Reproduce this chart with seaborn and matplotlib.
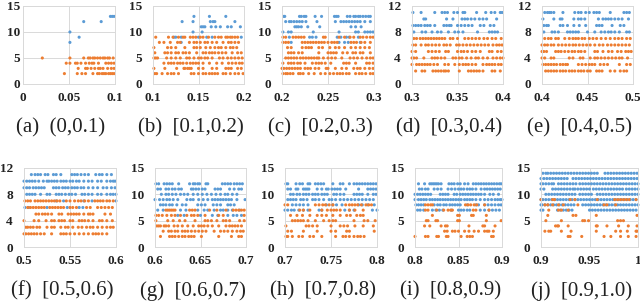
import pandas as pd
import matplotlib
matplotlib.use("Agg")
import matplotlib.pyplot as plt
import seaborn as sns

BLUE = "#5B9BD5"
ORANGE = "#ED7D31"
W, H = 640, 302

# x values per y level
a_blue = {13: [.095, .097, .099], 12: [.066, .085], 10: [.051], 9: [.061], 8: [.051]}
a_orange = {
    5: [.021, .051, .066, .071, .073, .076, .078, .081, .084, .087, .089, .092, .094, .098],
    4: [.047, .051, .057, .059, .063, .068, .072, .075, .077, .082, .090, .093, .096, .099],
    3: [.060, .068, .070, .074, .078, .082, .084, .087, .092, .096, .099],
    2: [.045, .059, .064, .068, .076, .081, .083, .086, .088, .090, .093, .095, .097, .099],
}
b_blue = {
    13: [.145, .162, .18],
    12: [.132, .144, .163, .166, .168, .19],
    11: [.153, .155, .157, .164, .169, .174, .182, .186, .196],
    10: [.144, .154],
    9: [.123, .125, .131, .150, .159, .165, .197],
    8: [.131],
}
b_orange = {
    9: [.103, .117, .122, .128, .133, .135, .141, .144, .147, .152, .155, .161, .168, .172, .175, .18, .182, .185, .187, .19, .193],
    8: [.107, .112, .119, .127, .13, .14, .145, .148, .152, .157, .16, .165, .17, .177, .183, .186, .19, .194],
    7: [.101, .116, .12, .125, .135, .145, .148, .152, .158, .163, .168, .172, .175, .18, .185, .188, .192],
    6: [.102, .113, .116, .12, .125, .128, .133, .136, .14, .148, .155, .158, .162, .165, .168, .172, .176, .18, .187, .193, .197],
    5: [.101, .103, .105, .115, .12, .125, .13, .137, .14, .145, .15, .153, .157, .16, .165, .173, .177, .182, .186, .19, .194, .198],
    4: [.112, .117, .12, .123, .127, .13, .133, .137, .141, .144, .147, .15, .155, .162, .17, .176, .183, .187, .191, .195, .198],
    3: [.101, .113, .126, .135, .134, .138, .14, .142, .15, .155, .165, .17, .18, .183, .186, .193, .197],
    2: [.102, .104, .11, .116, .12, .123, .128, .142, .145, .15, .155, .158, .162, .165, .168, .171, .177, .18, .185, .19, .194, .199],
}
c_blue = {
    13: [.202, .203, .219, .221, .224, .226, .236, .243, .257, .259, .261, .271, .274, .278, .28, .283, .285, .288, .291, .294, .296],
    12: [.204, .208, .21, .213, .216, .219, .222, .226, .238, .258, .264, .267, .27, .273, .276, .279, .282, .285, .29, .296],
    11: [.214, .216, .218, .221, .228, .241, .275, .28, .286],
    10: [.201, .207, .21, .234, .262, .28, .283, .29, .293, .296, .299],
    9: [.208, .23, .233, .237, .26, .264, .27, .273, .283],
    8: [.21, .262, .268, .272, .285],
}
c_orange = {
    9: [.201, .204, .212, .215, .218, .221, .224, .245, .247, .262, .268, .274, .278, .285, .288, .292, .296, .299],
    8: [.201, .204, .207, .222, .225, .228, .231, .234, .237, .24, .243, .246, .25, .254, .257, .26, .275, .278, .281, .286, .29, .296],
    7: [.206, .21, .222, .226, .229, .232, .24, .244, .252, .258, .262, .268, .275, .28, .285, .29, .295],
    6: [.207, .21, .213, .218, .222, .24, .25, .253, .256, .259, .266, .271, .277, .28, .285, .288, .296],
    5: [.204, .207, .21, .213, .216, .22, .223, .226, .229, .232, .235, .238, .24, .245, .25, .254, .258, .265, .274, .278, .282, .287, .292, .296, .299],
    4: [.201, .207, .21, .213, .217, .22, .225, .233, .237, .24, .243, .247, .253, .267, .27, .273, .28, .292, .295, .299],
    3: [.2, .202, .205, .208, .211, .214, .217, .22, .225, .228, .231, .236, .24, .248, .25, .258, .265, .27, .278, .282, .285, .29, .295, .299],
    2: [.201, .204, .206, .209, .212, .218, .22, .223, .229, .235, .242, .247, .252, .256, .26, .263, .266, .27, .273, .28, .284, .287, .291, .296, .299],
}
d_blue = {
    11: [.301, .31, .325, .333, .336, .339, .346, .35, .356, .358, .371, .381, .387, .391, .397, .399],
    10: [.313, .315, .338, .345, .355, .358, .361, .365, .369, .374, .378, .382, .393],
    9: [.301, .304, .307, .31, .314, .317, .32, .325, .335, .338, .341, .343, .35, .354, .358, .362, .366, .375, .379, .386, .39],
    8: [.302, .311, .315, .322, .328, .332, .34, .347, .351, .356, .372, .385, .388, .391, .394],
}
d_orange = {
    7: [.302, .305, .309, .312, .315, .318, .321, .324, .327, .33, .333, .336, .342, .345, .35, .358, .362, .366, .37, .374, .379, .383, .388, .392, .398],
    6: [.301, .304, .31, .315, .318, .322, .326, .33, .335, .338, .342, .349, .352, .356, .36, .364, .368, .372, .376, .38, .384, .389, .393, .396, .399],
    5: [.3, .304, .318, .322, .326, .33, .337, .34, .35, .354, .357, .361, .366, .37, .375, .385, .388, .394, .398],
    4: [.3, .302, .305, .313, .322, .325, .328, .332, .336, .345, .348, .352, .355, .36, .365, .37, .373, .378, .383, .389, .393, .397, .4],
    3: [.3, .305, .308, .311, .314, .317, .32, .324, .328, .336, .34, .347, .352, .356, .359, .362, .366, .37, .378, .382, .385, .388, .391, .395, .398],
    2: [.304, .311, .314, .323, .326, .329, .332, .335, .337, .34, .352, .362, .365, .368, .371, .374, .378, .388, .391, .397],
}
e_blue = {
    11: [.403, .406, .408, .41, .413, .423, .436, .44, .443, .448, .452, .457, .46, .463, .475, .49, .493, .496],
    10: [.401, .413, .42, .422, .435, .44, .443, .447, .462, .467, .47, .473, .476, .48, .484, .488, .495],
    9: [.402, .405, .407, .42, .423, .428, .435, .441, .448, .46, .463, .466, .477, .486, .49],
    8: [.402, .411, .414, .418, .428, .431, .434, .437, .44, .45, .458, .465, .469, .473, .476, .48, .485, .493, .496],
}
e_orange = {
    7: [.403, .407, .41, .415, .418, .425, .43, .434, .437, .44, .444, .447, .452, .456, .46, .465, .47, .475, .48, .484, .488, .493, .497],
    6: [.4, .403, .406, .41, .413, .418, .422, .426, .43, .434, .437, .441, .445, .449, .453, .458, .463, .467, .472, .476, .48, .484, .488, .492, .496],
    5: [.4, .402, .405, .415, .418, .421, .425, .429, .433, .436, .44, .443, .447, .458, .461, .467, .473, .477, .483, .487, .492, .495, .498],
    4: [.4, .403, .41, .413, .43, .434, .442, .445, .453, .458, .461, .465, .469, .473, .477, .481, .485, .488, .494],
    3: [.401, .404, .407, .41, .413, .416, .42, .423, .426, .428, .44, .444, .448, .452, .455, .458, .464, .468, .472, .485, .493, .497],
    2: [.404, .407, .41, .413, .416, .42, .423, .426, .43, .433, .436, .44, .443, .446, .45, .453, .46, .463, .466, .475, .48, .486, .49, .493],
}
f_blue = {
    11: [.508, .512, .515, .518, .523, .526, .532, .535, .54, .552, .555, .558, .562, .566, .57, .578, .582, .585, .59, .595],
    10: [.5, .503, .506, .509, .512, .516, .521, .525, .527, .53, .533, .536, .54, .543, .546, .55, .553, .557, .56, .565, .57, .574, .58, .584, .59, .594, .597, .599],
    9: [.5, .503, .506, .51, .513, .516, .519, .522, .532, .535, .538, .542, .545, .548, .552, .555, .558, .562, .565, .57, .575, .58, .586, .59, .595, .599],
    8: [.503, .506, .509, .512, .518, .525, .528, .535, .538, .541, .545, .549, .552, .556, .563, .566, .57, .574, .58, .584, .59, .594, .597, .6],
    7: [.535, .543, .565, .574, .6],
    6: [.501, .505, .525, .547, .56, .564],
}
f_orange = {
    7: [.501, .504, .507, .512, .515, .518, .521, .524, .527, .53, .533, .536, .539, .546, .55, .555, .559, .562, .566, .57, .577, .58, .583, .586, .59, .593, .597],
    6: [.504, .507, .51, .513, .516, .519, .522, .528, .531, .534, .537, .54, .543, .55, .553, .557, .568, .572, .58, .584, .588, .592, .596],
    5: [.513, .516, .52, .523, .526, .53, .538, .541, .548, .551, .554, .557, .56, .565, .57, .572, .575, .588, .594],
    4: [.5, .511, .516, .524, .53, .533, .538, .541, .544, .55, .553, .56, .563, .566, .57, .575, .582, .585, .59, .596],
    3: [.502, .504, .507, .51, .514, .517, .525, .53, .533, .54, .545, .548, .553, .559, .563, .568, .572, .575, .58, .585, .59, .594, .597],
    2: [.5, .502, .505, .508, .511, .514, .518, .522, .53, .54, .543, .546, .55, .555, .56, .565, .57, .575, .578, .581, .585, .59],
}
g_blue = {
    12: [.601, .604, .61, .613, .616, .619, .626, .638, .642, .644, .647, .649, .656, .658, .674, .677, .68, .683, .687, .69, .693, .696],
    11: [.603, .606, .612, .615, .619, .622, .626, .629, .64, .642, .645, .648, .652, .655, .666, .669, .672, .682, .687, .692, .695],
    10: [.607, .612, .615, .619, .623, .628, .632, .636, .642, .647, .652, .657, .662, .667, .672, .677, .68, .685, .69],
    9: [.6, .605, .609, .613, .616, .62, .625, .635, .639, .642, .648, .653, .658, .663, .666, .669, .672, .675, .678, .681, .684, .69, .699],
    8: [.606, .609, .612, .616, .619, .624, .63, .634, .647, .651, .655, .664, .668, .672, .68, .683, .687],
    7: [.603, .609, .628, .634, .647, .654, .658, .665, .672, .675, .68, .685, .693],
    6: [.625, .632, .65, .663, .669, .68, .686, .69, .695],
}
g_orange = {
    7: [.612, .614, .616, .618, .62, .622, .638, .641, .644, .66, .668, .678, .686, .689, .692, .695, .698],
    6: [.601, .604, .608, .613, .618, .622, .628, .635, .64, .643, .647, .655, .67, .675, .698],
    5: [.601, .614, .62, .627, .633, .644, .655, .658, .662, .668, .675, .678, .682, .693, .698],
    4: [.602, .604, .606, .61, .612, .615, .621, .625, .63, .636, .642, .648, .651, .654, .658, .663, .67, .678, .682, .685, .688, .691, .695],
    3: [.609, .615, .618, .622, .625, .63, .633, .636, .64, .644, .648, .652, .656, .665, .672, .676, .68, .685, .69, .694, .697],
    2: [.606, .616, .619, .622, .626, .63, .633, .637, .64, .643, .651, .67, .684, .692, .695],
}
h_blue = {
    12: [.701, .703, .712, .716, .719, .725, .727, .733, .736, .739, .742, .752, .76, .763, .77, .775, .778, .781, .784, .787, .79, .793, .796, .799],
    11: [.703, .706, .712, .714, .72, .722, .724, .726, .735, .74, .745, .747, .751, .754, .757, .76, .766, .78, .79, .793, .796, .799],
    10: [.706, .709, .713, .716, .72, .723, .726, .73, .733, .736, .74, .743, .746, .753, .756, .76, .764, .775, .778, .781, .784, .79, .796, .799],
    9: [.703, .706, .709, .712, .717, .72, .724, .73, .733, .737, .742, .748, .751, .755, .76, .764, .768, .772, .776, .78, .784, .788, .792, .796],
    8: [.708, .712, .716, .72, .725, .745, .752, .756, .762, .78, .784, .79, .797],
    7: [.7, .703, .707, .71, .715, .72, .725, .737, .74, .765, .77, .775, .795, .8],
}
h_orange = {
    8: [.7, .703, .733, .737, .741, .744, .748, .752, .766, .77, .773, .776, .779, .783, .788, .791, .794],
    7: [.716, .72, .727, .74, .746, .75, .753, .756, .76, .77, .776, .785],
    6: [.706, .713, .719, .727, .735, .74, .745, .752, .76, .767, .771, .778, .782, .785],
    5: [.708, .711, .714, .717, .72, .725, .733, .742, .748, .752, .755, .775, .786, .79, .798],
    4: [.701, .723, .726, .73, .735, .75, .76, .764, .768, .776, .785, .796],
    3: [.703, .707, .72, .735, .75, .755, .767, .77, .797],
    2: [.701, .703, .708, .715, .719, .727, .731, .74, .755, .763, .766, .77, .775, .779, .782, .786],
}
i_blue = {
    12: [.804, .811, .817, .819, .821, .823, .825, .827, .83, .839, .842, .845, .849, .852, .857, .861, .867, .87, .873, .876, .879, .882, .885, .888, .891, .894, .897, .899],
    11: [.805, .808, .812, .815, .822, .826, .83, .838, .842, .846, .85, .853, .856, .86, .863, .866, .87, .876, .88, .883, .886, .889, .892, .895, .898],
    10: [.8, .803, .806, .809, .812, .815, .818, .829, .832, .835, .838, .845, .848, .852, .855, .858, .861, .864, .867, .87, .873, .876, .88, .886, .89, .896],
    9: [.8, .804, .807, .81, .813, .817, .82, .823, .826, .829, .832, .835, .838, .841, .844, .847, .85, .853, .857, .86, .863, .866, .87, .875, .88, .884, .888, .892, .895, .898, .9],
    8: [.801, .804, .807, .81, .822, .826, .829, .833, .836, .84, .843, .846, .849, .852, .86, .87, .873, .88, .884, .888, .892, .896, .899],
    7: [.803, .806, .81, .82, .824, .828, .832, .842, .85, .853, .856, .86, .863, .875, .88, .885, .889, .893, .897],
}
i_orange = {
    8: [.812, .815, .818, .82, .858, .861, .864, .868, .871, .88],
    7: [.812, .815, .825, .833, .838, .841, .843, .867, .87, .885],
    6: [.82, .849, .851, .865, .867, .882],
    5: [.813, .815, .824, .826, .849, .851, .882, .899],
    4: [.811, .817, .83, .835, .837, .862, .878, .88, .892],
    3: [.834, .837, .843, .846, .85, .857, .862, .868, .873, .88, .883, .885, .89],
    2: [.8, .812, .815, .825, .827, .836, .838, .853, .86, .863, .866, .888, .89],
}
j_blue = {
    14: [.902, .905, .907, .91, .913, .916, .919, .922, .925, .928, .931, .934, .937, .94, .943, .946, .949, .952, .955, .958, .966, .969, .972, .975, .978, .981, .984, .987, .99, .993, .996, .999],
    13: [.9, .903, .906, .909, .912, .915, .918, .921, .924, .927, .933, .936, .939, .942, .945, .948, .951, .954, .957, .96, .963, .966, .969, .972, .975, .978, .981, .984, .987, .99, .993, .996, .999],
    12: [.9, .902, .905, .908, .911, .913, .918, .921, .924, .927, .93, .933, .936, .94, .943, .946, .949, .952, .955, .958, .961, .964, .967, .97, .973, .976, .979, .982, .985, .988, .991, .994, .997, 1.0],
    11: [.9, .903, .912, .915, .918, .921, .924, .927, .93, .933, .935, .938, .941, .944, .947, .95, .954, .957, .96, .963, .966, .969, .972, .975, .978, .981, .984, .988, .991, .994, .997, 1.0],
    10: [.905, .908, .911, .914, .917, .92, .923, .926, .929, .932, .935, .94, .943, .946, .949, .952, .958, .961, .964, .967, .97, .973, .976, .979, .982, .985, .988, .991, .994, .997, 1.0],
    9: [.9, .902, .905, .908, .911, .914, .917, .92, .923, .926, .929, .932, .935, .938, .941, .944, .947, .95, .953, .956, .959, .962, .965, .968, .971, .974, .977, .98, .983, .986, .989, .992, .995, .998],
    8: [.9, .901, .904, .907, .91, .913, .916, .919, .922, .925, .928, .931, .934, .943, .946, .949, .952, .955, .958, .961, .964, .967, .97, .973, .976, .979, .982, .985, .988, .991, .994, .997, 1.0],
    7: [.9, .902, .917, .92, .923, .926, .929, .932, .95, .953, .956, .959, .962, .965, .968, .971, .974, .977, .98, .983, .986, .989, .992, .995, .998],
}
j_orange = {
    9: [.9, .912, .914, .93, .935, .958, .976, .979, .982, .985, .988, .991, .998],
    8: [.904, .907, .912, .918, .923, .938, .965, .968, .977],
    7: [.908, .918, .921, .928],
    6: [.907, .933, .936, .957, .999],
    5: [.905, .921, .943, .945, .949, .979, .982, .985],
    4: [.915, .917, .918, .928, .957, .958, .968, .98, .99, .999],
    3: [.904, .908, .91, .921, .931, .957, .977, .982, .989, .998, .999],
    2: [.928, .93, .942, .965, .972, .982, .99, .998],
}

y15 = [0, 5, 10, 15]
y12 = [0, 4, 8, 12]

# blue, orange, caption, x ticks, x labels, y ticks, axes box in px (left, right, top, bottom), y label pad
panels = [
    (a_blue, a_orange, "(a)  (0,0.1)", [0, .05, .1], ["0", "0.05", "0.1"], y15, (23, 115, 6, 84), 2),
    (b_blue, b_orange, "(b)  [0.1,0.2)", [.1, .15, .2], ["0.1", "0.15", "0.2"], y15, (153, 244, 6, 84), 8),
    (c_blue, c_orange, "(c)  [0.2,0.3)", [.2, .25, .3], ["0.2", "0.25", "0.3"], y15, (282, 374, 6, 84), 8),
    (d_blue, d_orange, "(d)  [0.3,0.4)", [.3, .35, .4], ["0.3", "0.35", "0.4"], y12, (412, 503, 6, 84), 8),
    (e_blue, e_orange, "(e)  [0.4,0.5)", [.4, .45, .5], ["0.4", "0.45", "0.5"], y12, (542, 633, 6, 84), 8),
    (f_blue, f_orange, "(f)  [0.5,0.6)", [.5, .55, .6], ["0.5", "0.55", "0.6"], y12, (24, 116, 168, 247), 8),
    (g_blue, g_orange, "(g)  [0.6,0.7)", [.6, .65, .7], ["0.6", "0.65", "0.7"], y15, (155, 246, 168, 247), 8),
    (h_blue, h_orange, "(h)  [0.7,0.8)", [.7, .75, .8], ["0.7", "0.75", "0.8"], y15, (285, 377, 168, 247), 8),
    (i_blue, i_orange, "(i)  [0.8,0.9)", [.8, .85, .9], ["0.8", "0.85", "0.9"], y15, (415, 502, 168, 247), 8),
    (j_blue, j_orange, "(j)  [0.9,1.0)", [.9, .95, 1.0], ["0.9", "0.95", "1"], y15, (541, 638, 168, 247), 8),
]


def long_table(blue, orange):
    rows = []
    for name, levels in (("blue", blue), ("orange", orange)):
        for level, xs in levels.items():
            for x in xs:
                rows.append({"x": x, "y": level, "kind": name})
    return pd.DataFrame(rows)


sns.set_theme(style="white")
plt.rcParams["font.family"] = ["Liberation Serif", "DejaVu Serif"]

fig = plt.figure(figsize=(W / 100, H / 100), dpi=100)
for blue, orange, caption, xt, xl, yt, box, ypad in panels:
    left, right, top, bottom = box
    ax = fig.add_axes([left / W, 1 - bottom / H, (right - left) / W, (bottom - top) / H])
    df = long_table(blue, orange)
    sns.scatterplot(data=df, x="x", y="y", hue="kind", hue_order=["blue", "orange"],
                    palette={"blue": BLUE, "orange": ORANGE}, marker="o", s=5,
                    linewidth=0, legend=False, clip_on=False, ax=ax)
    ax.set_xlim(xt[0], xt[-1])
    ax.set_ylim(yt[0], yt[-1])
    ax.set_xticks(xt, xl)
    ax.set_yticks(yt)
    ax.set_xlabel("")
    ax.set_ylabel("")
    ax.grid(True, color="#D9D9D9", linewidth=0.7)
    ax.set_axisbelow(True)
    ax.tick_params(length=0, labelsize=9.5, pad=6)
    ax.tick_params(axis="y", pad=ypad)
    for label in ax.get_xticklabels() + ax.get_yticklabels():
        label.set_fontweight("bold")
        label.set_color("#222222")
    for spine in ax.spines.values():
        spine.set_color("#D9D9D9")
        spine.set_linewidth(0.7)
    fig.text(((left + right) / 2 - 8) / W, 1 - (bottom + 44) / H, caption, ha="center",
             va="center", fontsize=15, color="#222222")

fig.savefig("out.png", dpi=100)
plt.close(fig)
